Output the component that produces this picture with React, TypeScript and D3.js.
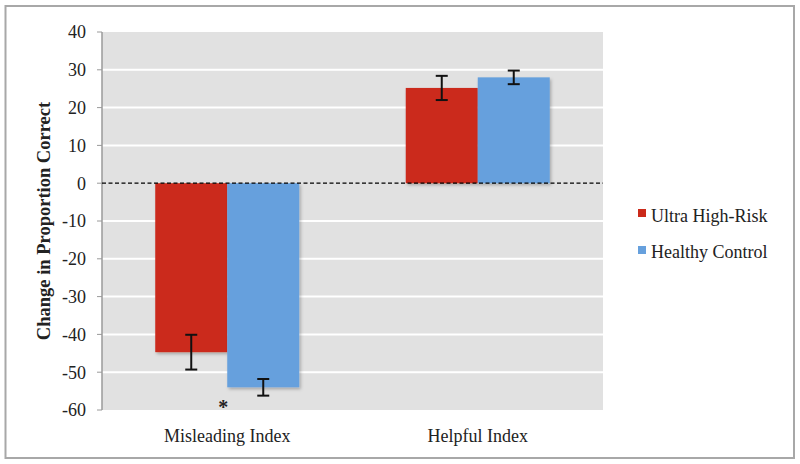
import React from "react";
import * as d3 from "d3";

const categories = ["Misleading Index", "Helpful Index"];
const seriesNames = ["Ultra High-Risk", "Healthy Control"];
const ultraHighRisk = [-44.7, 25.2];
const ultraHighRiskErr = [4.6, 3.2];
const healthyControl = [-54, 28];
const healthyControlErr = [2.2, 1.8];
const yTicks = [40, 30, 20, 10, 0, -10, -20, -30, -40, -50, -60];
const colors = ["#CB2A1A", "#66A0DD"];

export default function App() {
  const W = 800, H = 464;
  const left = 102, right = 603, top = 32, bottom = 410;
  const y = d3.scaleLinear().domain([-60, 40]).range([bottom, top]);
  const x0 = d3.scaleBand().domain(categories).range([left, right]).padding(0);
  const groupW = 144;
  const x1 = d3.scaleBand().domain(seriesNames).range([0, groupW]);
  const series = [
    { name: seriesNames[0], values: ultraHighRisk, errs: ultraHighRiskErr, color: colors[0] },
    { name: seriesNames[1], values: healthyControl, errs: healthyControlErr, color: colors[1] },
  ];
  const center = (c: string) => (x0(c) as number) + x0.bandwidth() / 2;
  const serif = "'Liberation Serif', 'Times New Roman', serif";
  return (
    <svg width={W} height={H} style={{ position: "absolute", left: 0, top: 0 }}>
      <defs>
        <filter id="sh" x="-10%" y="-10%" width="130%" height="130%">
          <feDropShadow dx="1.5" dy="2" stdDeviation="1.5" floodColor="#000" floodOpacity="0.25" />
        </filter>
      </defs>
      <rect x={0} y={0} width={W} height={H} fill="#fff" />
      <rect x={5.5} y={6} width={788.5} height={452} fill="#fff" stroke="#a8a8a8" strokeWidth={2} />
      <rect x={left} y={top} width={right - left} height={bottom - top} fill="#e1e1e1" />
      {yTicks.map((t) => (
        <g key={t}>
          {t !== 0 && t !== -60 && t !== 40 ? (
            <line x1={left} x2={right} y1={y(t)} y2={y(t)} stroke="#fff" strokeWidth={2} />
          ) : null}
          <line x1={left - 5} x2={left} y1={y(t)} y2={y(t)} stroke="#9a9a9a" strokeWidth={1} />
          <text x={86} y={y(t)} dy="0.35em" textAnchor="end" fontFamily={serif} fontSize={18} fill="#222">
            {t}
          </text>
        </g>
      ))}
      <line x1={left} x2={left} y1={top} y2={bottom} stroke="#9a9a9a" strokeWidth={1.5} />
      {series.map((s) =>
        categories.map((c, i) => {
          const v = s.values[i];
          const bx = center(c) - groupW / 2 + (x1(s.name) as number);
          const bw = x1.bandwidth();
          return (
            <rect
              key={s.name + c}
              x={bx}
              y={Math.min(y(v), y(0))}
              width={bw}
              height={Math.abs(y(v) - y(0))}
              fill={s.color}
              filter="url(#sh)"
            />
          );
        })
      )}
      {series.map((s) =>
        categories.map((c, i) => {
          const v = s.values[i];
          const e = s.errs[i];
          const cx = center(c) - groupW / 2 + (x1(s.name) as number) + x1.bandwidth() / 2;
          return (
            <g key={"e" + s.name + c} stroke="#111" strokeWidth={2}>
              <line x1={cx} x2={cx} y1={y(v + e)} y2={y(v - e)} />
              <line x1={cx - 6} x2={cx + 6} y1={y(v + e)} y2={y(v + e)} />
              <line x1={cx - 6} x2={cx + 6} y1={y(v - e)} y2={y(v - e)} />
            </g>
          );
        })
      )}
      <line x1={left} x2={right} y1={y(0)} y2={y(0)} stroke="#000" strokeWidth={1.3} strokeDasharray="4,2.5" />
      <text x={center(categories[0]) - 4} y={y(-60) + 4} textAnchor="middle" fontFamily={serif} fontSize={20} fontWeight="bold" fill="#222">
        *
      </text>
      {categories.map((c) => (
        <text key={c} x={center(c)} y={442} textAnchor="middle" fontFamily={serif} fontSize={18} fill="#222">
          {c}
        </text>
      ))}
      <text
        transform={`translate(50, 221) rotate(-90)`}
        textAnchor="middle"
        fontFamily={serif}
        fontSize={18.5}
        fontWeight="bold"
        fill="#222"
      >
        Change in Proportion Correct
      </text>
      {series.map((s, i) => (
        <g key={"l" + s.name}>
          <rect x={638} y={209 + i * 37} width={8} height={8} fill={s.color} />
          <text x={651} y={222 + i * 36} fontFamily={serif} fontSize={18} fill="#222">
            {s.name}
          </text>
        </g>
      ))}
    </svg>
  );
}
